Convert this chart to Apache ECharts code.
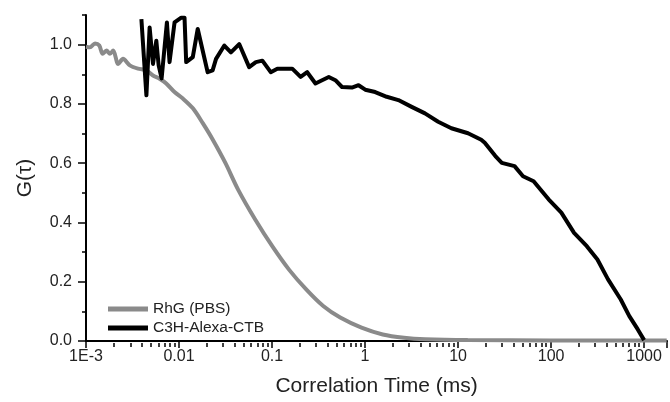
<!DOCTYPE html>
<html>
<head>
<meta charset="utf-8">
<script src="https://cdn.jsdelivr.net/npm/echarts@6/dist/echarts.min.js"></script>
<style>
html,body{margin:0;padding:0;background:#fff;}
#chart{width:670px;height:402px;}
</style>
</head>
<body>
<div id="chart"></div>
<script>
// Correlation time (ms) and G(tau) values
const rhgTime = [0.001, 0.0011, 0.00125, 0.00139, 0.00151, 0.00166, 0.00181, 0.00196, 0.00222, 0.0025,
  0.00296, 0.00362, 0.00446, 0.00525, 0.00618, 0.00729, 0.00895, 0.011, 0.0141, 0.018,
  0.023, 0.0316, 0.0433, 0.0659, 0.1005, 0.153, 0.233, 0.355, 0.541, 0.916,
  1.55, 2.62, 4.44, 12.7, 100, 1750];
const rhgG = [0.993, 0.991, 1.004, 0.997, 0.969, 0.98, 0.969, 0.98, 0.935, 0.952,
  0.93, 0.919, 0.913, 0.896, 0.885, 0.869, 0.84, 0.818, 0.785, 0.735,
  0.68, 0.6, 0.51, 0.41, 0.32, 0.24, 0.174, 0.118, 0.079, 0.045,
  0.022, 0.011, 0.006, 0.003, 0.002, 0.002];

const ctbTime = [0.00394, 0.00446, 0.00483, 0.00525, 0.0057, 0.00604, 0.0065, 0.00741, 0.00791, 0.00895,
  0.01057, 0.01146, 0.01194, 0.01406, 0.01589, 0.02032, 0.02296, 0.025, 0.03069, 0.03614,
  0.04436, 0.05675, 0.06699, 0.0787, 0.09683, 0.114, 0.1648, 0.2028, 0.2388, 0.2931,
  0.3451, 0.4074, 0.4797, 0.5649, 0.7228, 0.8511, 1.005, 1.285, 1.71, 2.28,
  3.17, 4.406, 6.109, 8.472, 12.79, 17.74, 19.36, 25.18, 29.51, 40.46,
  49.89, 64.86, 93.97, 128.8, 176.6, 242.1, 314.8, 409.3, 561.0, 693.4,
  855.1, 1000];
const ctbG = [1.086, 0.829, 1.058, 0.935, 1.013, 0.93, 0.886, 1.075, 0.941, 1.075,
  1.091, 1.091, 0.941, 0.958, 1.053, 0.907, 0.913, 0.952, 0.997, 0.974,
  1.002, 0.924, 0.941, 0.946, 0.907, 0.919, 0.919, 0.891, 0.907, 0.869,
  0.88, 0.891, 0.88, 0.857, 0.855, 0.863, 0.848, 0.84, 0.824, 0.813,
  0.79, 0.768, 0.74, 0.718, 0.701, 0.679, 0.669, 0.624, 0.601, 0.59,
  0.556, 0.539, 0.478, 0.433, 0.365, 0.32, 0.275, 0.208, 0.14, 0.084,
  0.039, 0.003];

const seriesNames = ['RhG (PBS)', 'C3H-Alexa-CTB'];
const xTickLabels = ['1E-3', '0.01', '0.1', '1', '10', '100', '1000'];
const xDecades = [-3, -2, -1, 0, 1, 2, 3];
const yTicks = [0, 0.2, 0.4, 0.6, 0.8, 1.0];
const yMinorTicks = [0.1, 0.3, 0.5, 0.7, 0.9, 1.1];

const X_MIN = -3, X_MAX = 3.246;
const xMinor = [];
xDecades.forEach(function (d) {
  for (let k = 2; k <= 9; k++) {
    const v = Math.round((d + Math.log10(k)) * 10000) / 10000;
    if (v < X_MAX) xMinor.push(v);
  }
});

function toPairs(t, g) { return t.map(function (v, i) { return [Math.log10(v), g[i]]; }); }

const GRID_TOP = 15, GRID_BOTTOM = 59, H = 402;
const FONT = 'Liberation Sans, Arial, sans-serif';
const chart = echarts.init(document.getElementById('chart'), null, { renderer: 'canvas' });
chart.setOption({
  animation: false,
  backgroundColor: '#ffffff',
  grid: [
    { left: 86, right: 0, top: GRID_TOP, bottom: GRID_BOTTOM, containLabel: false },
    // thin helper grid whose top edge sits on the x axis, carrying the minor ticks
    { left: 86, right: 0, top: H - GRID_BOTTOM, height: 2, containLabel: false }
  ],
  legend: {
    orient: 'vertical', left: 103, top: 296,
    itemWidth: 40, itemHeight: 5, itemGap: 3, icon: 'rect',
    data: seriesNames,
    textStyle: { fontFamily: FONT, fontSize: 15.5, color: '#222' }
  },
  xAxis: [{
    gridIndex: 0, type: 'value', min: X_MIN, max: X_MAX, interval: 1,
    position: 'bottom',
    name: 'Correlation Time (ms)', nameLocation: 'middle', nameGap: 35,
    nameTextStyle: { fontFamily: FONT, fontSize: 21, color: '#222' },
    axisLine: { show: true, onZero: false, lineStyle: { color: '#000', width: 2 } },
    axisTick: { show: true, inside: false, length: 7, lineStyle: { color: '#000', width: 1.5 } },
    axisLabel: { margin: 8, fontFamily: FONT, fontSize: 16, color: '#222',
      formatter: function (v) { const i = xDecades.indexOf(v); return i >= 0 ? xTickLabels[i] : ''; } },
    splitLine: { show: false }
  }, {
    gridIndex: 1, type: 'value', min: X_MIN, max: X_MAX, position: 'top',
    axisLine: { show: true, onZero: false, lineStyle: { color: '#000', width: 1, opacity: 0 } },
    axisTick: { show: true, inside: true, length: 4, customValues: xMinor, lineStyle: { color: '#000', width: 1.5 } },
    axisLabel: { show: true, color: 'rgba(0,0,0,0)', fontSize: 6, formatter: function () { return '.'; } },
    splitLine: { show: false }
  }],
  yAxis: [{
    gridIndex: 0, type: 'value', min: 0, max: 1.1, interval: 0.2, position: 'left',
    name: 'G(τ)', nameLocation: 'middle', nameGap: 50, nameRotate: 90,
    nameTextStyle: { fontFamily: FONT, fontSize: 21, color: '#222' },
    axisLine: { show: true, onZero: false, lineStyle: { color: '#000', width: 2 } },
    axisTick: { show: true, inside: false, length: 8, customValues: yTicks, lineStyle: { color: '#000', width: 1.5 } },
    axisLabel: { margin: 14, customValues: yTicks, fontFamily: FONT, fontSize: 16, color: '#222',
      formatter: function (v) { return v.toFixed(1); } },
    splitLine: { show: false }
  }, {
    gridIndex: 0, type: 'value', min: 0, max: 1.1, position: 'left', offset: 0,
    axisLine: { show: true, onZero: false, lineStyle: { color: '#000', width: 2, opacity: 0 } },
    axisTick: { show: true, inside: false, length: 4, customValues: yMinorTicks, lineStyle: { color: '#000', width: 1.5 } },
    axisLabel: { show: false },
    splitLine: { show: false }
  }, {
    gridIndex: 1, type: 'value', min: 0, max: 1, show: false
  }],
  series: [{
    name: seriesNames[0], type: 'line', xAxisIndex: 0, yAxisIndex: 0,
    data: toPairs(rhgTime, rhgG), showSymbol: false, symbol: 'none', smooth: 0.3,
    lineStyle: { color: '#8a8a8a', width: 4 }, itemStyle: { color: '#8a8a8a' }, z: 3
  }, {
    name: seriesNames[1], type: 'line', xAxisIndex: 0, yAxisIndex: 0,
    data: toPairs(ctbTime, ctbG), showSymbol: false, symbol: 'none',
    lineStyle: { color: '#000', width: 4, join: 'round' }, itemStyle: { color: '#000' }, z: 4
  }]
});
</script>
</body>
</html>
